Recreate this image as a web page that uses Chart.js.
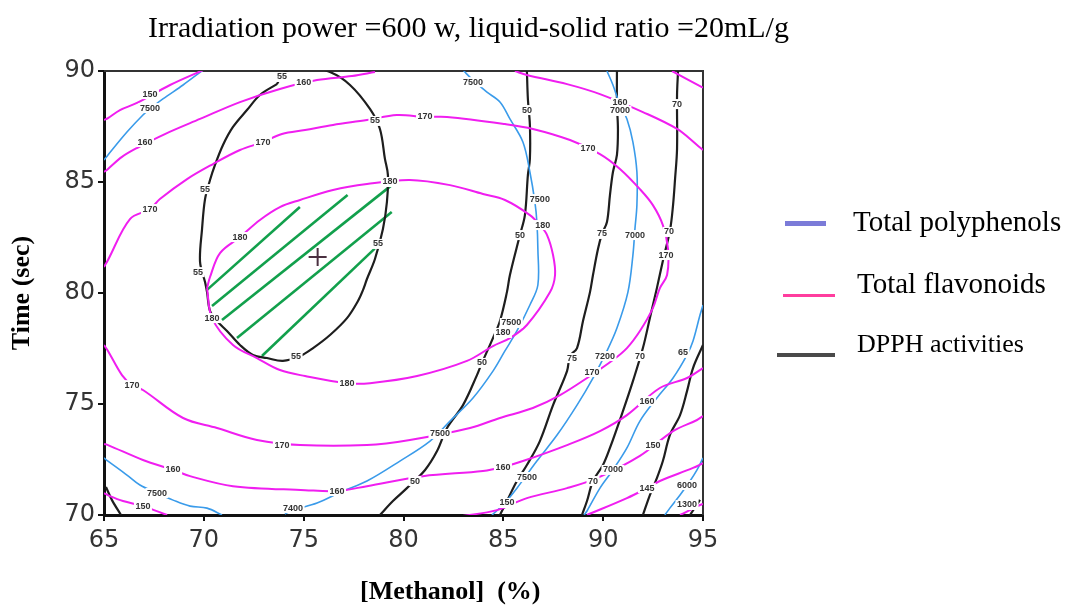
<!DOCTYPE html>
<html lang="en">
<head>
  <meta charset="UTF-8" />
  <title>Contour plot - Methanol vs Time</title>
  <script src="https://cdn.jsdelivr.net/npm/chart.js"></script>
  <style>
    * { margin: 0; padding: 0; box-sizing: border-box; }
    body { background: #fff; width: 1067px; height: 609px; overflow: hidden; }
    .wrap { position: relative; width: 1067px; height: 609px; }
    canvas { position: absolute; left: 0; top: 0; }
    .txt { position: absolute; white-space: nowrap; font-family: 'Liberation Serif', 'Times New Roman', serif; color: #000; }
    .title { left: 148px; top: 12px; font-size: 30px; line-height: 30px; }
    .xtitle { left: 360px; top: 578px; font-size: 26px; line-height: 26px; font-weight: bold; }
    .leg-text { font-size: 29px; line-height: 29px; }
    .leg-line { position: absolute; }
  </style>
</head>
<body>
  <div class="wrap">
    <canvas id="contour" width="1067" height="609"></canvas>
    <div class="txt title">Irradiation power =600 w, liquid-solid ratio =20mL/g</div>
    <div class="txt xtitle">[Methanol]&nbsp;&nbsp;(%)</div>

    <div class="leg-line" style="left:785px; top:221px; width:41px; height:5px; background:#7b7bd8;"></div>
    <div class="txt leg-text" style="left:853px; top:207px;">Total polyphenols</div>
    <div class="leg-line" style="left:783px; top:294px; width:52px; height:3px; background:#ff3d9e;"></div>
    <div class="txt leg-text" style="left:857px; top:269px;">Total flavonoids</div>
    <div class="leg-line" style="left:777px; top:353px; width:58px; height:4px; background:#4a4a4a;"></div>
    <div class="txt leg-text" style="left:857px; top:331px; font-size:26px; line-height:26px;">DPPH activities</div>
  </div>

  <script>
    // axes
    const xRange = [65, 95];
    const yRange = [70, 90];
    const tickStep = 5;

    // Total flavonoids contours [methanol %, time s]
    const flav150a = [[65.0,87.79],[65.2,87.88],[65.8,88.24],[66.65,88.56],[68.31,89.37],[69.96,90.04]];
    const flav150b = [[93.45,90.0],[94.1,89.68],[94.85,89.32],[95.0,89.25]];
    const flav150c = [[65.0,70.99],[65.3,70.85],[65.95,70.63],[66.95,70.40],[68.16,70.0]];
    const flav150d = [[82.18,69.77],[82.68,69.91],[84.68,70.22],[86.18,70.76],[88.19,71.21],[89.69,71.66],[91.84,72.66],[93.5,73.78],[94.7,74.28],[95.0,74.46]];
    const flav160a = [[65.0,85.45],[65.2,85.59],[65.9,86.13],[66.65,86.53],[68.05,87.16],[69.81,87.84],[71.81,88.6],[73.81,89.19],[75.67,89.59],[77.42,89.77],[78.57,89.95]];
    const flav160b = [[85.58,90.0],[86.18,89.82],[88.19,89.41],[89.84,88.96],[91.99,88.15],[93.7,87.39],[94.7,86.67],[95.0,86.44]];
    const flav160c = [[65.0,73.2],[65.2,73.15],[66.95,72.48],[68.46,72.03],[69.31,71.75],[71.46,71.3],[75.07,71.12],[76.67,71.08],[78.17,71.3],[80.98,71.75],[83.98,71.98],[84.98,72.16],[85.98,72.43],[88.19,73.15],[89.84,73.78],[91.19,74.5],[92.84,75.72],[94.2,76.17],[95.0,76.62]];
    const flav140 = [[89.19,70.0],[91.19,70.76],[92.19,71.21],[92.84,71.53],[94.5,72.12],[95.0,72.34]];
    const flav130 = [[93.85,70.0],[94.85,70.45],[95.0,70.5]];
    const flav170 = [[65.0,81.17],[65.2,81.49],[66.3,83.33],[67.3,83.78],[67.8,84.23],[69.16,85.13],[70.46,85.81],[71.81,86.44],[72.96,86.8],[73.91,87.16],[75.07,87.34],[76.47,87.57],[78.17,87.79],[79.67,88.02],[81.08,87.93],[82.18,87.93],[85.08,87.61],[86.48,87.39],[88.34,86.89],[89.84,86.26],[90.84,85.59],[91.84,84.68],[92.49,83.96],[92.99,83.06],[93.25,81.98],[93.2,80.81],[92.84,80.22],[92.49,79.32],[91.84,78.29],[91.19,77.52],[90.49,76.98],[89.34,76.26],[87.84,75.4],[86.48,74.82],[84.83,74.37],[83.33,73.92],[80.32,73.38],[78.17,73.15],[74.82,73.15],[72.66,73.38],[70.66,73.92],[68.96,74.37],[66.95,75.63],[66.4,75.85],[65.9,76.3],[65.2,77.39],[65.0,77.66]];
    const flav180 = [[70.16,80.22],[70.41,78.87],[71.46,77.66],[72.66,77.07],[73.81,76.53],[75.07,76.26],[77.17,75.94],[78.32,75.94],[80.68,76.26],[83.18,76.94],[84.48,77.61],[85.33,77.97],[86.18,78.56],[87.34,80.04],[87.59,80.81],[87.49,81.71],[87.19,82.61],[86.83,83.06],[86.33,83.51],[85.08,84.19],[83.98,84.46],[82.33,84.86],[80.32,85.09],[78.17,84.91],[76.47,84.64],[74.82,84.19],[73.81,83.87],[72.81,83.29],[71.81,82.52],[70.81,81.8],[70.31,80.72],[70.16,80.22]];

    // Total polyphenols contours
    const poly7500a = [[65.0,85.99],[65.2,86.22],[66.15,87.25],[66.95,88.02],[67.3,88.29],[67.95,88.74],[68.96,89.37],[69.96,90.04]];
    const poly7500b = [[65.0,72.57],[65.2,72.43],[66.15,71.8],[66.8,71.35],[67.65,70.99],[68.46,70.67],[69.31,70.4],[70.16,70.31],[70.91,70.0]];
    const poly7500c = [[74.06,70.04],[74.47,70.22],[75.67,70.54],[76.97,71.08],[78.17,71.53],[79.82,72.43],[81.33,73.33],[82.33,74.23],[83.48,75.27],[84.48,76.48],[85.08,77.39],[85.68,78.29],[86.33,79.46],[86.73,80.36],[86.73,81.98],[86.68,83.2],[86.58,84.1],[86.33,85.45],[85.98,86.8],[85.33,87.84],[84.83,88.6],[84.18,89.05],[83.48,89.59],[82.98,90.04]];
    const poly7000 = [[90.19,90.0],[90.49,89.37],[90.84,88.47],[91.19,87.84],[91.49,86.8],[91.69,85.45],[91.69,83.96],[91.59,82.88],[91.49,81.71],[91.24,80.04],[90.69,78.42],[90.19,77.39],[89.49,76.17],[88.69,74.95],[87.69,73.6],[86.68,72.43],[85.68,71.21],[84.98,70.45],[84.43,70.0]];
    const poly6500 = [[95.0,79.46],[94.85,79.01],[94.5,77.84],[94.2,77.21],[93.5,76.17],[92.69,75.27],[91.84,74.23],[91.19,73.02],[90.49,72.03],[89.84,71.21],[89.19,70.18],[89.04,70.0]];
    const poly6000 = [[95.0,72.57],[94.7,72.03],[94.35,71.53],[93.85,70.9],[93.34,70.31],[93.09,70.0]];

    // DPPH activities contours
    const dpph55 = [[73.66,89.41],[72.81,88.92],[72.16,88.24],[71.46,87.48],[70.96,86.67],[70.56,85.77],[70.31,85.09],[70.06,84.23],[69.91,82.88],[69.81,81.4],[70.06,80.49],[70.16,80.04],[70.31,79.19],[70.66,78.74],[71.16,78.29],[71.81,77.66],[72.46,77.21],[73.16,77.07],[73.96,76.94],[74.82,77.16],[75.47,77.52],[76.32,78.11],[77.17,78.87],[77.72,79.64],[77.97,80.13],[78.17,80.63],[78.57,81.53],[78.97,82.88],[79.17,84.1],[79.22,85.31],[79.07,86.04],[78.82,87.39],[78.32,88.29],[77.32,89.37],[76.32,89.95],[75.07,90.23],[74.06,89.95],[73.66,89.41]];
    const dpph50 = [[86.18,90.0],[86.23,88.74],[86.33,87.57],[86.33,86.04],[86.23,85.31],[86.08,83.51],[85.83,82.61],[85.33,80.81],[85.18,80.04],[84.83,78.74],[84.48,77.97],[83.93,76.85],[83.68,76.3],[82.98,74.95],[82.18,73.92],[81.68,72.88],[81.08,72.03],[80.17,71.21],[79.47,70.63],[78.82,70.0]];
    const dpph75 = [[90.69,90.0],[90.69,88.47],[90.74,87.39],[90.69,86.22],[90.49,85.45],[90.34,84.41],[90.19,83.2],[89.94,82.66],[89.74,81.98],[89.49,80.81],[89.34,80.04],[88.99,78.74],[88.69,77.52],[88.34,77.16],[88.19,76.48],[87.49,74.95],[86.83,73.33],[86.18,72.25],[85.68,71.53],[85.18,70.63],[84.83,70.0]];
    const dpph70 = [[93.75,90.0],[93.7,88.92],[93.7,86.49],[93.6,85.13],[93.5,83.96],[93.35,82.84],[93.0,81.49],[92.69,80.22],[92.34,78.87],[91.99,77.52],[91.49,76.03],[90.99,74.68],[90.34,73.02],[89.99,72.25],[89.49,71.53],[89.19,70.63],[88.94,70.0]];
    const dpph65 = [[95.0,77.66],[94.5,76.62],[94.2,75.58],[93.85,74.5],[93.34,73.6],[92.99,72.43],[92.69,71.66],[92.34,70.9],[91.99,70.0]];
    const dpph60a = [[94.85,70.68],[94.35,70.0]];
    const dpph60b = [[65.1,71.26],[65.4,70.67],[65.85,70.0]];

    // optimum region hatching and centre point
    const hatch = [
      [[70.16,80.14],[74.81,83.87]],
      [[70.41,79.41],[77.2,84.41]],
      [[70.91,78.78],[79.41,84.86]],
      [[71.66,77.97],[79.41,83.65]],
      [[72.91,77.16],[78.56,82.0]]
    ];
    const optimum = [75.7, 81.62];

    // inline contour labels [x, y, text]
    const contourLabels = [
      [67.3,88.96,'150'],[67.3,88.33,'7500'],[67.05,86.8,'160'],[67.3,83.78,'170'],
      [73.91,89.73,'55'],[75.0,89.46,'160'],[72.96,86.8,'170'],[70.06,84.68,'55'],
      [71.81,82.52,'180'],[69.71,80.94,'55'],[70.41,78.87,'180'],[74.62,77.12,'55'],
      [78.57,87.75,'55'],[81.08,87.93,'170'],[79.32,85.0,'180'],[78.72,82.21,'55'],
      [83.48,89.5,'7500'],[86.18,88.24,'50'],[86.83,84.23,'7500'],[86.98,83.06,'180'],[85.83,82.61,'50'],
      [90.84,88.56,'160'],[90.84,88.2,'7000'],[89.24,86.49,'170'],[93.7,88.51,'70'],
      [89.94,82.66,'75'],[91.59,82.61,'7000'],[93.3,82.75,'70'],[93.15,81.71,'170'],
      [85.4,78.65,'7500'],[84.98,78.2,'180'],[83.93,76.85,'50'],[88.44,77.07,'75'],[90.09,77.16,'7200'],
      [89.44,76.44,'170'],[91.84,77.16,'70'],[94.0,77.3,'65'],[92.19,75.13,'160'],
      [81.83,73.65,'7500'],[73.91,73.15,'170'],[66.4,75.85,'170'],[77.17,75.94,'180'],
      [68.46,72.03,'160'],[67.65,70.99,'7500'],[66.95,70.4,'150'],[74.47,70.31,'7400'],
      [76.67,71.08,'160'],[80.57,71.53,'50'],[84.98,72.16,'160'],[86.18,71.71,'7500'],[85.18,70.54,'150'],
      [92.49,73.15,'150'],[90.49,72.03,'7000'],[89.49,71.53,'70'],[92.19,71.21,'145'],[94.2,71.35,'6000'],[94.2,70.45,'1300']
    ];

    const PINK = '#f01ef0';
    const BLUE = '#3a9bea';
    const BLACK = '#1e1e1e';
    const GREEN = '#12a04c';

    function contour(points, color, width) {
      return {
        data: points.map(p => ({ x: p[0], y: p[1] })),
        showLine: true,
        borderColor: color,
        borderWidth: width,
        pointRadius: 0,
        tension: 0.35,
        fill: false
      };
    }

    const datasets = [];
    [flav150a, flav150b, flav150c, flav150d, flav160a, flav160b, flav160c, flav140, flav130, flav170, flav180]
      .forEach(c => datasets.push(contour(c, PINK, 2)));
    [poly7500a, poly7500b, poly7500c, poly7000, poly6500, poly6000]
      .forEach(c => datasets.push(contour(c, BLUE, 1.6)));
    [dpph55, dpph50, dpph75, dpph70, dpph65, dpph60a, dpph60b]
      .forEach(c => datasets.push(contour(c, BLACK, 2.2)));
    hatch.forEach(h => {
      const d = contour(h, GREEN, 2.6);
      d.tension = 0;
      datasets.push(d);
    });
    datasets.push({
      data: [{ x: optimum[0], y: optimum[1] }],
      pointStyle: 'cross',
      pointRadius: 9,
      borderColor: '#4a3040',
      borderWidth: 2,
      showLine: false
    });

    // frame on top/right + inline labels
    const framePlugin = {
      id: 'frame',
      beforeDatasetsDraw(chart) {
        const { ctx, chartArea: a } = chart;
        ctx.save();
        ctx.strokeStyle = '#333';
        ctx.lineWidth = 2;
        ctx.beginPath();
        ctx.moveTo(a.left, a.top);
        ctx.lineTo(a.right, a.top);
        ctx.lineTo(a.right, a.bottom);
        ctx.stroke();
        ctx.restore();
      },
      afterDatasetsDraw(chart) {
        const { ctx, scales } = chart;
        ctx.save();
        ctx.font = 'bold 9px "Liberation Sans", Arial, sans-serif';
        ctx.textAlign = 'center';
        ctx.textBaseline = 'middle';
        contourLabels.forEach(l => {
          const px = scales.x.getPixelForValue(l[0]);
          const py = scales.y.getPixelForValue(l[1]);
          const w = ctx.measureText(l[2]).width + 3;
          ctx.fillStyle = '#fff';
          ctx.fillRect(px - w / 2, py - 5, w, 10);
          ctx.fillStyle = '#333';
          ctx.fillText(l[2], px, py);
        });
        ctx.restore();
      }
    };

    new Chart(document.getElementById('contour'), {
      type: 'scatter',
      data: { datasets },
      options: {
        responsive: false,
        animation: false,
        events: [],
        layout: { padding: { left: 0, top: 71, right: 364, bottom: 0 } },
        plugins: {
          legend: { display: false },
          tooltip: { enabled: false }
        },
        scales: {
          x: {
            type: 'linear',
            min: xRange[0],
            max: xRange[1],
            afterFit: s => { s.height = 94; },
            ticks: {
              stepSize: tickStep,
              color: '#333',
              padding: 5,
              font: { family: 'DejaVu Sans', size: 24 }
            },
            grid: { display: true, drawOnChartArea: false, drawTicks: true, tickLength: 6, color: '#111', lineWidth: 2 },
            border: { display: true, color: '#111', width: 3 }
          },
          y: {
            type: 'linear',
            min: yRange[0],
            max: yRange[1],
            afterFit: s => { s.width = 104; },
            ticks: {
              stepSize: tickStep,
              color: '#333',
              padding: 3,
              font: { family: 'DejaVu Sans', size: 24 }
            },
            grid: { display: true, drawOnChartArea: false, drawTicks: true, tickLength: 6, color: '#111', lineWidth: 2 },
            border: { display: true, color: '#111', width: 3 },
            title: {
              display: true,
              text: 'Time (sec)',
              color: '#000',
              padding: { top: 7, bottom: 0 },
              font: { family: 'Liberation Serif', size: 26, weight: 'bold' }
            }
          }
        }
      },
      plugins: [framePlugin]
    });
  </script>
</body>
</html>
